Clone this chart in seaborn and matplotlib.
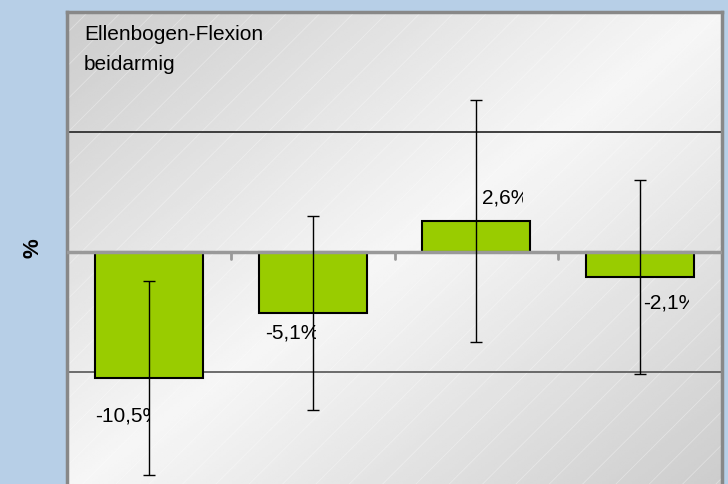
import numpy as np
import pandas as pd
import seaborn as sns
import matplotlib
matplotlib.use("agg")
import matplotlib.pyplot as plt
from matplotlib.patches import Rectangle

# Daten
categories = ["1", "2", "3", "4"]
values = [-10.5, -5.1, 2.6, -2.1]
errors = [8.1, 8.1, 10.1, 8.1]
labels = ["-10,5%", "-5,1%", "2,6%", "-2,1%"]
title = "Ellenbogen-Flexion\nbeidarmig"

sns.set_style("white")
plt.rcParams['font.family'] = ['Liberation Sans', 'DejaVu Sans']
plt.rcParams['hatch.linewidth'] = 0.6
plt.rcParams['text.color'] = 'black'

df = pd.DataFrame({"cat": categories, "val": values})

fig = plt.figure(figsize=(7.28, 4.84), dpi=100)
fig.patch.set_facecolor("#b7cfe7")
ax = fig.add_axes([67 / 728, 1 - 492 / 484, 655 / 728, 480 / 484])
ax.set_xlim(-0.5, 3.5)
ax.set_ylim(-20, 20)

# hintergrund verlauf
xx, yy = np.meshgrid(np.linspace(0, 1, 200), np.linspace(0, 1, 200))
d = (xx + yy) / 2
shade = 1 - np.abs(d - 0.5) * 2
img = 0.80 + 0.165 * shade
ax.imshow(img, extent=[0, 1, 0, 1], transform=ax.transAxes, cmap="gray",
          vmin=0, vmax=1, aspect="auto", zorder=0, interpolation="bilinear")
ax.add_patch(Rectangle((0, 0), 1, 1, transform=ax.transAxes, fill=False,
                       hatch="/", edgecolor="#ffffff", alpha=0.35, lw=0, zorder=0.5))

for yv, c, w in [(10, "#222222", 1.2), (-10, "#555555", 1.2)]:
    ax.axhline(yv, color=c, lw=w, zorder=1)

sns.barplot(data=df, x="cat", y="val", color="#99cc00", width=0.66,
            edgecolor="black", linewidth=1.5, saturation=1, ax=ax, zorder=2)
ax.set_xlim(-0.5, 3.5)
ax.set_ylim(-20, 20)
ax.axhline(0, color="#999999", lw=2.5, zorder=3)

xs = np.arange(len(categories))
for b in xs[:-1] + 0.5:
    ax.plot([b, b], [0, -0.6], color="#999999", lw=2, zorder=3)

ax.errorbar(xs, values, yerr=errors, fmt="none", ecolor="black",
            elinewidth=1, capsize=4, capthick=1, zorder=4)

# beschriftungen (abgeschnitten wie im original)
lab_pos = [(-0.329, -13.7, 0.0), (0.709, -6.75, 1.02),
           (2.034, 4.5, 2.285), (3.018, -4.25, 3.30)]
for (lx, ly, cx), txt in zip(lab_pos, labels):
    t = ax.text(lx, ly, txt, fontsize=15, va="center", ha="left", zorder=5,
                clip_on=True)
    clip = Rectangle((lx - 0.05, ly - 3), cx - lx + 0.05, 6,
                     transform=ax.transData, visible=False)
    ax.add_patch(clip)
    t.set_clip_path(clip)

ax.text(17 / 655, 1 - 13 / 480, title, transform=ax.transAxes, fontsize=15,
        va="top", ha="left", linespacing=1.75, zorder=5)

ax.set_xlabel("")
ax.set_ylabel("")
ax.set_xticks([])
ax.set_yticks([])
for s in ax.spines.values():
    s.set_color("#888888")
    s.set_linewidth(2.5)

fig.text(33 / 728, 1 - 248 / 484, "%", rotation=90, fontsize=16,
         fontweight="bold", ha="center", va="center")

plt.savefig("out.png", dpi=100, facecolor=fig.get_facecolor())
